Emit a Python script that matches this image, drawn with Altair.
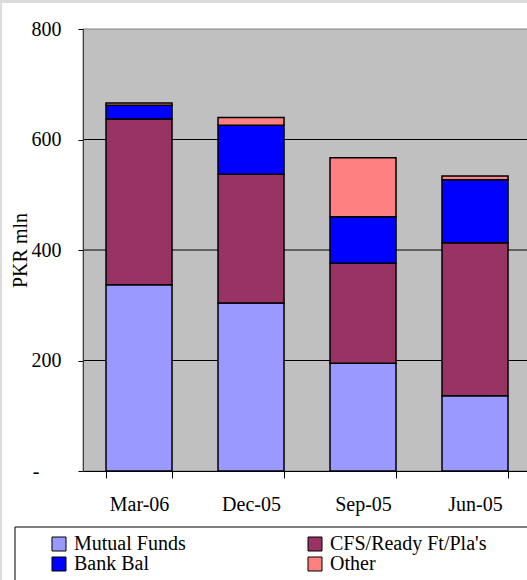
import altair as alt
import pandas as pd

# Quarter-end holdings, PKR mln
quarters = ["Mar-06", "Dec-05", "Sep-05", "Jun-05"]
series = ["Mutual Funds", "CFS/Ready Ft/Pla's", "Bank Bal", "Other"]
mutual_funds = [337, 304, 195, 136]
cfs_ready = [300, 233, 181, 277]
bank_bal = [25, 89, 84, 114]
other = [4, 14, 107, 7]
colors = ["#9999FF", "#993366", "#0000FF", "#FF8080"]
grid_values = [200, 400, 600]

rows = []
for i, q in enumerate(quarters):
    for k, (name, vals) in enumerate(zip(series, [mutual_funds, cfs_ready, bank_bal, other])):
        rows.append({"quarter": q, "series": name, "value": vals[i], "rank": k})
df = pd.DataFrame(rows)

FONT = "Liberation Serif"
W, H = 444, 442

x_enc = alt.X(
    "quarter:N",
    sort=quarters,
    title=None,
    scale=alt.Scale(paddingInner=0.4107, paddingOuter=0.1875, align=0.548),
    axis=alt.Axis(
        labelAngle=0,
        labelFont=FONT,
        labelFontSize=20,
        labelFontWeight="normal",
        labelColor="black",
        labelPadding=16,
        tickBand="extent",
        tickSize=7,
        tickColor="black",
        domainColor="black",
        grid=False,
        zindex=2,
    ),
)

y_enc = alt.Y(
    "value:Q",
    stack="zero",
    title="PKR mln",
    scale=alt.Scale(domain=[0, 800], nice=False),
    axis=alt.Axis(
        values=[0, 200, 400, 600, 800],
        labelExpr="datum.value == 0 ? '-' : datum.label",
        format="d",
        labelFont=FONT,
        labelFontSize=20,
        labelFontWeight="normal",
        labelColor="black",
        # the zero dash sits further out, accounting style
        labelPadding={"condition": {"test": "datum.value == 0", "value": 39}, "value": 17},
        tickSize=5,
        tickColor="black",
        domainColor="#404040",
        grid=False,
        titleFont=FONT,
        titleFontSize=20,
        titleFontWeight="normal",
        titleColor="black",
        titleX=-57,
        titleY=221,
        titleBaseline="alphabetic",
        titleAlign="center",
        zindex=2,
    ),
)

one = pd.DataFrame({"k": [0]})

# White page inside the thin grey frame
page = alt.Chart(one).mark_rect(fill="white").encode(
    x=alt.value(-81), x2=alt.value(480), y=alt.value(-26), y2=alt.value(600)
)

# Grey plot area with its border
plot_bg = alt.Chart(one).mark_rect(fill="#C0C0C0", stroke="#808080", strokeWidth=1).encode(
    x=alt.value(0), x2=alt.value(W + 20), y=alt.value(0), y2=alt.value(H)
)

grid = alt.Chart(pd.DataFrame({"v": grid_values})).mark_rule(
    color="black", strokeWidth=1
).encode(y="v:Q", x=alt.value(0), x2=alt.value(W))

bars = alt.Chart(df).mark_bar(stroke="black", strokeWidth=1.5).encode(
    x=x_enc,
    y=y_enc,
    color=alt.Color(
        "series:N",
        sort=series,
        scale=alt.Scale(domain=series, range=colors),
        legend=alt.Legend(
            title=None,
            orient="none",
            legendX=-34,
            legendY=505,
            direction="horizontal",
            columns=2,
            columnPadding=119,
            rowPadding=0,
            symbolType="square",
            symbolSize=196,
            symbolStrokeColor="black",
            symbolStrokeWidth=1,
            symbolOpacity=1,
            labelFont=FONT,
            labelFontSize=20,
            labelColor="black",
            labelOffset=5,
            padding=0,
        ),
    ),
    order=alt.Order("rank:Q", sort="ascending"),
)

# Frame drawn around the key
legend_box = alt.Chart(one).mark_rect(fill=None, stroke="black", strokeWidth=1).encode(
    x=alt.value(-68), x2=alt.value(470), y=alt.value(498), y2=alt.value(580)
)

chart = alt.layer(page, plot_bg, grid, bars, legend_box).properties(
    width=W,
    height=H,
    autosize=alt.AutoSizeParams(type="none"),
    padding={"left": 83, "top": 29, "right": 0, "bottom": 109},
    background="#DCDCDC",
).configure_view(
    fill=None, stroke=None
)

chart.save("out.html", embed_options={"renderer": "svg", "actions": False})
